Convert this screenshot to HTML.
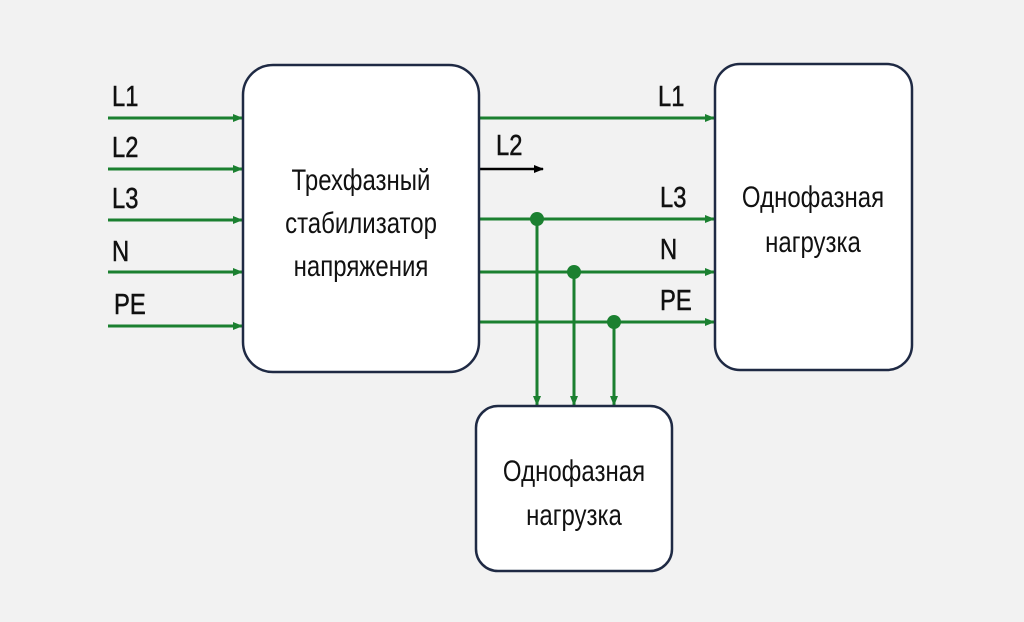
<!DOCTYPE html>
<html><head><meta charset="utf-8"><style>
html,body{margin:0;padding:0;background:#f2f2f2;}
svg{display:block}
.lab{font-family:"Liberation Sans","DejaVu Sans",sans-serif;font-size:29px;fill:#111;stroke:#111;stroke-width:0.5;}
.box{font-family:"Liberation Sans","DejaVu Sans",sans-serif;font-size:30px;fill:#111;}
</style></head><body>
<svg width="1024" height="622" viewBox="0 0 1024 622" xmlns="http://www.w3.org/2000/svg">
<defs>
<marker id="g" markerWidth="10" markerHeight="8" refX="9" refY="4" orient="auto" markerUnits="userSpaceOnUse"><path d="M0,0 L10,4 L0,8 z" fill="#1b8030"/></marker>
<marker id="b" markerWidth="10" markerHeight="8" refX="9" refY="4" orient="auto" markerUnits="userSpaceOnUse"><path d="M0,0 L10,4 L0,8 z" fill="#000"/></marker>
</defs>
<rect width="1024" height="622" fill="#f2f2f2"/>
<g stroke="#1b8030" stroke-width="3" fill="none" marker-end="url(#g)">
<line x1="108" y1="118" x2="242" y2="118"/>
<line x1="108" y1="169" x2="242" y2="169"/>
<line x1="108" y1="220" x2="242" y2="220"/>
<line x1="108" y1="272" x2="242" y2="272"/>
<line x1="108" y1="326" x2="242" y2="326"/>
<line x1="479" y1="118" x2="714" y2="118"/>
<line x1="479" y1="219" x2="714" y2="219"/>
<line x1="479" y1="272" x2="714" y2="272"/>
<line x1="479" y1="322" x2="714" y2="322"/>
<line x1="537" y1="219" x2="537" y2="405"/>
<line x1="574" y1="272" x2="574" y2="405"/>
<line x1="614" y1="322" x2="614" y2="405"/>
</g>
<line x1="479" y1="169" x2="543" y2="169" stroke="#000" stroke-width="2.5" marker-end="url(#b)"/>
<g fill="#1b8030"><circle cx="537" cy="219" r="7"/><circle cx="574" cy="272" r="7"/><circle cx="614" cy="322" r="7"/></g>
<g fill="#fff" stroke="#1f2a44" stroke-width="2.5">
<rect x="243" y="65" width="236" height="307" rx="30"/>
<rect x="715" y="64" width="197" height="306" rx="25"/>
<rect x="476" y="406" width="196" height="165" rx="22"/>
</g>
<g class="lab">
<text transform="translate(112,106) scale(0.82,1)">L1</text>
<text transform="translate(112,157) scale(0.82,1)">L2</text>
<text transform="translate(112,208) scale(0.82,1)">L3</text>
<text transform="translate(112,261) scale(0.82,1)">N</text>
<text transform="translate(114,314) scale(0.82,1)">PE</text>
<text transform="translate(658,106) scale(0.82,1)">L1</text>
<text transform="translate(496,155) scale(0.82,1)">L2</text>
<text transform="translate(660,207) scale(0.82,1)">L3</text>
<text transform="translate(660,259) scale(0.82,1)">N</text>
<text transform="translate(660,310) scale(0.82,1)">PE</text>
</g>
<g class="box" text-anchor="middle">
<text transform="translate(361,190) scale(0.8,1)">Трехфазный</text>
<text transform="translate(361,233) scale(0.8,1)">стабилизатор</text>
<text transform="translate(361,276) scale(0.8,1)">напряжения</text>
<text transform="translate(813,207) scale(0.8,1)">Однофазная</text>
<text transform="translate(813,252) scale(0.8,1)">нагрузка</text>
<text transform="translate(574,481) scale(0.8,1)">Однофазная</text>
<text transform="translate(574,525) scale(0.8,1)">нагрузка</text>
</g>
</svg>
</body></html>
